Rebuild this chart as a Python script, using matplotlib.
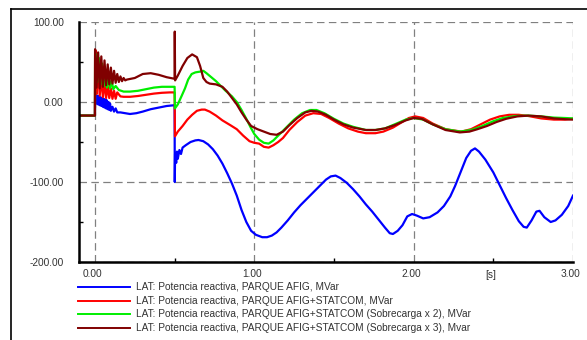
import matplotlib
matplotlib.use('Agg')
import matplotlib.pyplot as plt
from matplotlib.lines import Line2D
import matplotlib.transforms as mtransforms

plt.rcParams['font.family'] = ['Liberation Sans', 'DejaVu Sans']

# ---------------- data ----------------
labels = [
    "LAT: Potencia reactiva, PARQUE AFIG, MVar",
    "LAT: Potencia reactiva, PARQUE AFIG+STATCOM, MVar",
    "LAT: Potencia reactiva, PARQUE AFIG+STATCOM (Sobrecarga x 2), MVar",
    "LAT: Potencia reactiva, PARQUE AFIG+STATCOM (Sobrecarga x 3), Mvar",
]
colors = ["#0000ff", "#ff0000", "#00ee00", "#800000"]

x_ticks = [0.0, 1.0, 2.0, 3.0]
x_tick_labels = ["0.00", "1.00", "2.00", "3.00"]
x_minor = [0.5, 1.5, 2.5]
x_minor_labels = ["", "", "[s]"]
y_ticks = [-200, -100, 0, 100]
y_tick_labels = ["-200.00", "-100.00", "0.00", "100.00"]
y_minor = [-150, -50, 50]

t_blue = [-0.1, 0.0, 0.001, 0.005, 0.01, 0.015, 0.02, 0.025, 0.03, 0.035, 0.04, 0.045,
          0.05, 0.055, 0.06, 0.065, 0.07, 0.075, 0.08, 0.085, 0.09, 0.095, 0.10, 0.11,
          0.12, 0.13, 0.14, 0.16, 0.19, 0.22, 0.26, 0.30, 0.35, 0.40, 0.45, 0.50,
          0.501, 0.503, 0.51, 0.515, 0.52, 0.53, 0.54, 0.55, 0.57, 0.60, 0.63, 0.65,
          0.68, 0.71, 0.74, 0.77, 0.80, 0.83, 0.86, 0.89, 0.92, 0.95, 0.98, 1.01,
          1.05, 1.08, 1.11, 1.14, 1.17, 1.21, 1.25, 1.29, 1.33, 1.37, 1.41, 1.45,
          1.48, 1.51, 1.54, 1.58, 1.62, 1.66, 1.70, 1.74, 1.78, 1.82, 1.85, 1.87,
          1.90, 1.93, 1.96, 1.99, 2.02, 2.06, 2.10, 2.15, 2.19, 2.23, 2.26, 2.30,
          2.33, 2.36, 2.385, 2.41, 2.45, 2.50, 2.54, 2.58, 2.62, 2.66, 2.69, 2.71,
          2.74, 2.77, 2.79, 2.82, 2.86, 2.89, 2.93, 2.97, 3.00]
q_blue = [-17, -17, 5, 9, -2, 8, -3, 7, -4, 6, -5, 5,
          -6, 4, -7, 3, -8, 2, -9, 0, -10, -2, -11, -6,
          -12, -8, -13, -13, -14, -15, -14, -12, -9, -7, -5, -4,
          -100, -65, -76, -62, -71, -60, -65, -57, -54, -50, -48, -47.5,
          -49, -53, -59, -67, -77, -89, -102, -117, -135, -150, -161, -166,
          -169, -169, -167, -163, -157, -148, -138, -129, -121, -113, -105, -97,
          -93, -92, -95, -101, -109, -118, -128, -137, -147, -157, -164, -165,
          -161, -154, -143, -140, -142, -145.5, -144, -138, -130, -118, -105, -85,
          -70, -61, -58, -62, -72, -88, -104, -120, -135, -149, -156, -157,
          -148, -137, -136, -144, -150, -148, -141, -130, -117]

t_red = [-0.1, 0.0, 0.001, 0.005, 0.01, 0.02, 0.03, 0.04, 0.05, 0.06, 0.07, 0.08,
         0.09, 0.10, 0.11, 0.12, 0.13, 0.14, 0.16, 0.18, 0.22, 0.27, 0.32, 0.37,
         0.42, 0.47, 0.50, 0.502, 0.52, 0.55, 0.58, 0.61, 0.64, 0.67, 0.69, 0.72,
         0.76, 0.80, 0.85, 0.89, 0.93, 0.97, 1.00, 1.03, 1.06, 1.09, 1.12, 1.15,
         1.18, 1.22, 1.27, 1.32, 1.37, 1.42, 1.47, 1.53, 1.59, 1.65, 1.70, 1.76,
         1.81, 1.87, 1.92, 1.97, 2.01, 2.06, 2.12, 2.20, 2.30, 2.36, 2.42, 2.48,
         2.54, 2.60, 2.66, 2.72, 2.80, 2.88, 2.95, 3.00]
q_red = [-17, -17, 65, 64, 10, 40, 8, 30, 6, 25, 5, 20,
         5, 17, 4, 14, 4, 12, 7, 6.5, 6.5, 7.5, 9, 10.5,
         11.5, 12, 12, -43, -37, -30, -22, -16, -11, -9.5, -9.5, -12,
         -17, -23, -29, -34, -42, -49, -51, -52, -56, -57, -54, -50,
         -45, -35, -25, -17, -14, -15, -20, -27, -33, -37, -39, -39,
         -37, -32, -26, -20, -18, -20, -27, -34, -37, -34, -28, -22,
         -18, -16, -16, -17.5, -20.5, -22, -22, -21]

t_green = [-0.1, 0.0, 0.001, 0.005, 0.015, 0.025, 0.035, 0.045, 0.055, 0.065, 0.075, 0.085,
           0.095, 0.105, 0.115, 0.13, 0.15, 0.18, 0.22, 0.27, 0.32, 0.37, 0.42, 0.47,
           0.50, 0.502, 0.52, 0.545, 0.565, 0.585, 0.607, 0.63, 0.66, 0.68, 0.70, 0.73,
           0.76, 0.785, 0.82, 0.86, 0.89, 0.92, 0.95, 0.975, 1.00, 1.03, 1.06, 1.09,
           1.12, 1.16, 1.20, 1.25, 1.30, 1.35, 1.39, 1.44, 1.50, 1.56, 1.62, 1.70,
           1.76, 1.82, 1.88, 1.95, 2.00, 2.06, 2.12, 2.20, 2.29, 2.36, 2.42, 2.50,
           2.56, 2.64, 2.72, 2.80, 2.88, 2.95, 3.00]
q_green = [-17, -17, 58, 60, 25, 55, 22, 48, 20, 40, 18, 33,
           17, 27, 16, 20, 15, 13, 13, 14, 16, 18, 19, 19,
           19, -8, -3, 8, 17, 28, 35, 37, 38, 39, 36, 31,
           26, 21, 14, 7, 0, -10, -21, -31, -40, -47, -51, -52,
           -48, -40, -32, -22, -14, -10, -10, -14, -21, -27, -31, -35,
           -35, -33, -28, -22, -20, -22, -28, -34, -37, -35, -31, -24,
           -20, -17.5, -17, -18, -19.5, -20, -20.5]

t_brown = [-0.1, 0.0, 0.001, 0.01, 0.02, 0.03, 0.04, 0.05, 0.06, 0.07, 0.08, 0.09,
           0.10, 0.11, 0.12, 0.13, 0.14, 0.15, 0.16, 0.17, 0.18, 0.19, 0.20, 0.25,
           0.30, 0.35, 0.40, 0.45, 0.50, 0.501, 0.503, 0.52, 0.55, 0.58, 0.61, 0.64,
           0.66, 0.68, 0.70, 0.72, 0.76, 0.80, 0.83, 0.86, 0.89, 0.92, 0.95, 0.98,
           1.02, 1.06, 1.10, 1.14, 1.18, 1.22, 1.27, 1.32, 1.36, 1.40, 1.45, 1.50,
           1.56, 1.62, 1.70, 1.76, 1.82, 1.88, 1.95, 2.00, 2.05, 2.12, 2.20, 2.29,
           2.35, 2.40, 2.46, 2.52, 2.58, 2.65, 2.72, 2.80, 2.88, 2.95, 3.00]
q_brown = [-17, -17, 66, 18, 62, 17, 57, 19, 52, 21, 47, 22,
           43, 23, 39, 24, 35, 25, 32, 26, 30, 27, 28, 30,
           35, 36, 34, 31, 29, 88, 27, 33, 45, 55, 59.5, 56,
           45, 30, 25, 23, 22, 19, 13, 5, -3, -13, -22, -30,
           -34, -37, -40, -41, -37, -29, -20, -13, -11, -12, -16, -22,
           -28, -32, -35, -35, -33, -29, -23, -20, -21, -28, -35, -38,
           -37, -34, -30, -25, -21, -18, -17, -18, -20.5, -21.5, -22]

series_t = [t_blue, t_red, t_green, t_brown]
series_q = [q_blue, q_red, q_green, q_brown]

# ---------------- figure ----------------
W, H = 587, 340
fig = plt.figure(figsize=(W / 100, H / 100), dpi=100)


def fx(px):
    return px / W


def fy(py):
    return 1 - py / H


ax = fig.add_axes([fx(79), fy(262), fx(573) - fx(79), fy(22) - fy(262)])

for t, q, c in zip(series_t, series_q, colors):
    ax.plot(t, q, color=c, lw=1.6, solid_joinstyle='round')

ax.set_xlim(-0.1, 3.0)
ax.set_ylim(-200, 100)

FS = 7.3
ax.set_xticks(x_ticks)
ax.set_xticklabels(x_tick_labels)
ax.set_xticks(x_minor, minor=True)
ax.set_xticklabels(x_minor_labels, minor=True)
ax.set_yticks(y_ticks)
ax.set_yticklabels(y_tick_labels)
ax.set_yticks(y_minor, minor=True)

ax.tick_params(axis='both', which='major', length=0, labelsize=FS, labelcolor='#333333')
ax.tick_params(axis='x', which='major', pad=5)
ax.tick_params(axis='y', which='major', pad=11)
ax.tick_params(axis='both', which='minor', length=3, width=1, direction='in',
               labelsize=FS, labelcolor='#333333', color='#000000')
ax.tick_params(axis='x', which='minor', pad=6)

offset = mtransforms.ScaledTranslation(-2.5 / 100, 0, fig.dpi_scale_trans)
for lab in ax.get_xticklabels() + ax.get_xticklabels(minor=True):
    lab.set_transform(lab.get_transform() + offset)

ax.grid(True, which='major', color='#808080', linestyle=(0, (6, 3.5)), lw=0.9)
ax.set_axisbelow(True)

for s in ['top', 'right']:
    ax.spines[s].set_visible(False)
for s in ['left', 'bottom']:
    ax.spines[s].set_linewidth(1.8)
    ax.spines[s].set_color('#000000')

# outer frame (top and left edges)
fig.add_artist(Line2D([fx(11), fx(11)], [fy(9), 0], color='k', lw=1.2))
fig.add_artist(Line2D([fx(11), 1], [fy(9), fy(9)], color='k', lw=1.2))

# legend below the axes
for i, (lab, c) in enumerate(zip(labels, colors)):
    yy = fy(287 + i * 13.6)
    fig.add_artist(Line2D([fx(78), fx(130)], [yy, yy], color=c, lw=1.4))
    fig.text(fx(136), yy, lab, va='center', ha='left', fontsize=FS, color='#333333')

fig.savefig('out.png', dpi=100)
